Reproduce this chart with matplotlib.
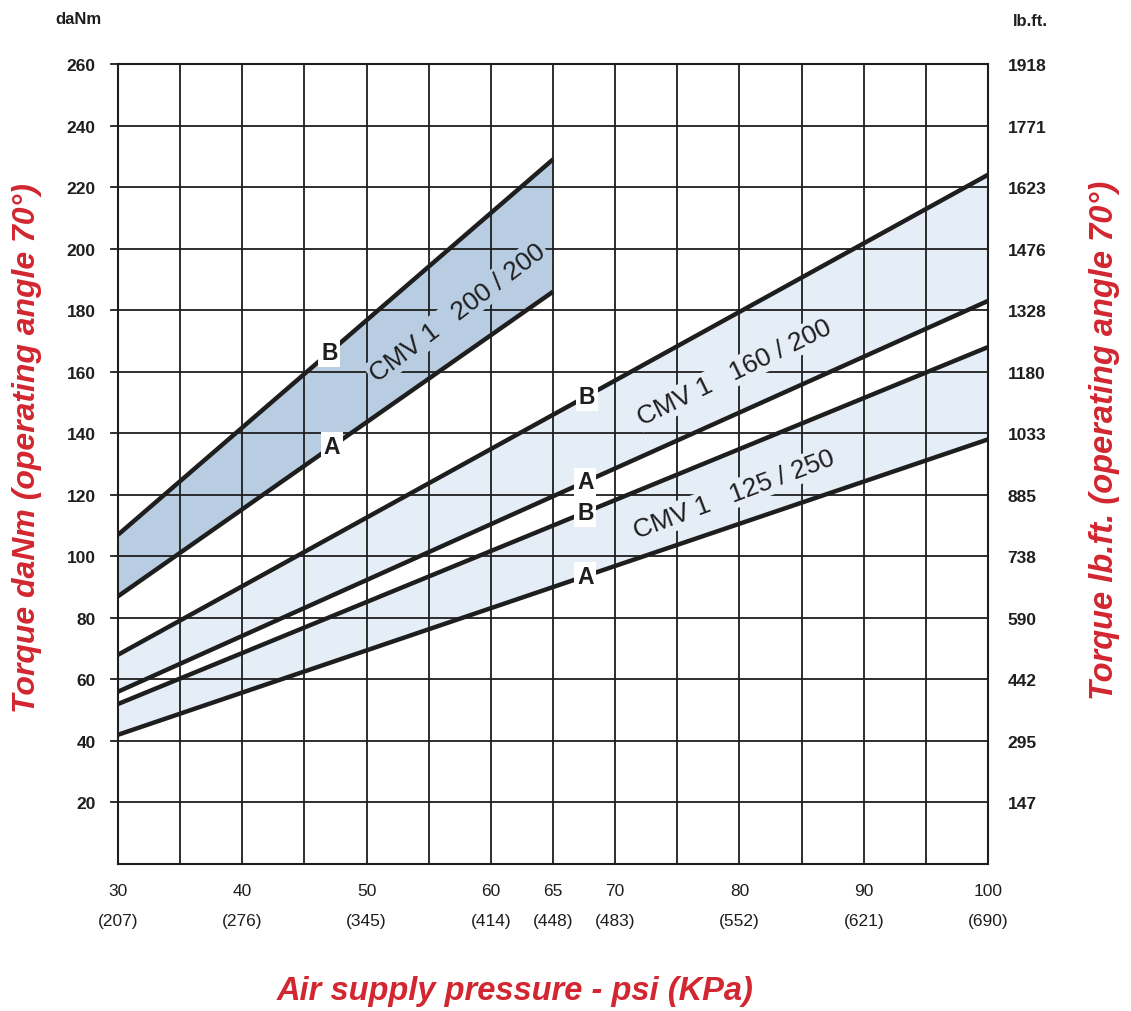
import numpy as np
import matplotlib
matplotlib.use("Agg")
import matplotlib.pyplot as plt

# ---- data ----
psi_ticks = [30, 40, 50, 60, 65, 70, 80, 90, 100]
kpa_ticks = ["207", "276", "345", "414", "448", "483", "552", "621", "690"]
danm_ticks = [20, 40, 60, 80, 100, 120, 140, 160, 180, 200, 220, 240, 260]
lbft_ticks = ["147", "295", "442", "590", "738", "885", "1033", "1180", "1328",
              "1476", "1623", "1771", "1918"]

x_200 = [30, 65]
b_200 = [107, 229]
a_200 = [87, 186]

x_160 = [30, 100]
b_160 = [68, 224]
a_160 = [56, 183]

x_125 = [30, 100]
b_125 = [52, 168]
a_125 = [42, 138]

RED = "#d22630"
INK = "#1e1e1e"
DARK_FILL = "#b9cde2"
LIGHT_FILL = "#e5edf7"
FONT = "Liberation Sans"

fig = plt.figure(figsize=(11.31, 10.12), dpi=100)
ax = fig.add_axes([118 / 1131, 1 - 865 / 1012, (988 - 118) / 1131, (865 - 65) / 1012])
ax.set_xlim(30, 100)
ax.set_ylim(0, 260)

# grid
for xv in np.arange(30, 101, 5):
    ax.axvline(xv, color=INK, lw=1.3, zorder=1)
for yv in np.arange(20, 261, 20):
    ax.plot([29.4, 100], [yv, yv], color=INK, lw=1.3, zorder=1, clip_on=False)
for s in ax.spines.values():
    s.set_color(INK)
    s.set_linewidth(1.5)

# bands
ax.fill_between(x_200, a_200, b_200, color=DARK_FILL, lw=0, zorder=0.5)
ax.fill_between(x_160, a_160, b_160, color=LIGHT_FILL, lw=0, zorder=0.5)
ax.fill_between(x_125, a_125, b_125, color=LIGHT_FILL, lw=0, zorder=0.5)

for xs, ys in [(x_200, b_200), (x_200, a_200), (x_160, b_160), (x_160, a_160),
               (x_125, b_125), (x_125, a_125)]:
    ax.plot(xs, ys, color=INK, lw=3.2, zorder=4, solid_capstyle="butt")


def yat(xs, ys, x):
    return np.interp(x, xs, ys)


# A / B labels
lab_kw = dict(fontsize=16.5, fontweight="bold", family=FONT, color=INK,
              ha="center", va="center", zorder=6,
              bbox=dict(facecolor="white", edgecolor="none", pad=2.0))
for xs, ys, x, t in [(x_200, b_200, 47.0, "B"), (x_200, a_200, 47.2, "A"),
                     (x_160, b_160, 67.7, "B"), (x_160, a_160, 67.6, "A"),
                     (x_125, b_125, 67.6, "B"), (x_125, a_125, 67.6, "A")]:
    ax.text(x, yat(xs, ys, x), t, **lab_kw)


# model labels (angle given in screen degrees)
def model_label(x, y, text, ang, face):
    ax.text(x, y, text, fontsize=19, family=FONT, color=INK, ha="center",
            va="center", rotation=ang, rotation_mode="anchor", zorder=3,
            bbox=dict(facecolor=face, edgecolor="none", pad=1.5))

model_label(57.3, 179.3, "CMV 1   200 / 200", 37, DARK_FILL)
model_label(79.6, 159.8, "CMV 1   160 / 200", 26, LIGHT_FILL)
model_label(79.6, 120.2, "CMV 1   125 / 250", 20.6, LIGHT_FILL)

# ticks
ax.set_xticks(psi_ticks)
ax.set_xticklabels([f"{p}\n\n({k})" for p, k in zip(psi_ticks, kpa_ticks)],
                   fontsize=12.5, family=FONT, color=INK, linespacing=1.0)
ax.tick_params(axis="x", length=0, pad=14)
ax.set_yticks(danm_ticks)
ax.set_yticklabels([str(v) for v in danm_ticks], fontsize=12.5,
                   fontweight="bold", family=FONT, color=INK)
ax.tick_params(axis="y", length=0, pad=16)

ax2 = ax.twinx()
ax2.set_ylim(ax.get_ylim())
ax2.set_yticks(danm_ticks)
ax2.set_yticklabels(lbft_ticks, fontsize=12.5, fontweight="bold", family=FONT,
                    color=INK)
ax2.tick_params(axis="y", length=0, pad=14)
for s in ax2.spines.values():
    s.set_visible(False)

# unit labels
fig.text(55 / 1131, 1 - 20 / 1012, "daNm", fontsize=12, fontweight="bold",
         family=FONT, color=INK, ha="left", va="center")
fig.text(1013 / 1131, 1 - 22 / 1012, "lb.ft.", fontsize=12, fontweight="bold",
         family=FONT, color=INK, ha="left", va="center")

# axis titles
fig.text(27 / 1131, 1 - 448 / 1012, "Torque daNm (operating angle 70°)",
         fontsize=23, fontweight="bold", style="italic", family=FONT,
         color=RED, rotation=90, ha="center", va="center")
fig.text(1104 / 1131, 1 - 440 / 1012, "Torque lb.ft. (operating angle 70°)",
         fontsize=23.5, fontweight="bold", style="italic", family=FONT,
         color=RED, rotation=90, ha="center", va="center")
fig.text(515 / 1131, 1 - 992 / 1012, "Air supply pressure - psi (KPa)",
         fontsize=23.5, fontweight="bold", style="italic",
         family=FONT, color=RED, ha="center", va="center")

fig.savefig("out.png", dpi=100, facecolor="white")
